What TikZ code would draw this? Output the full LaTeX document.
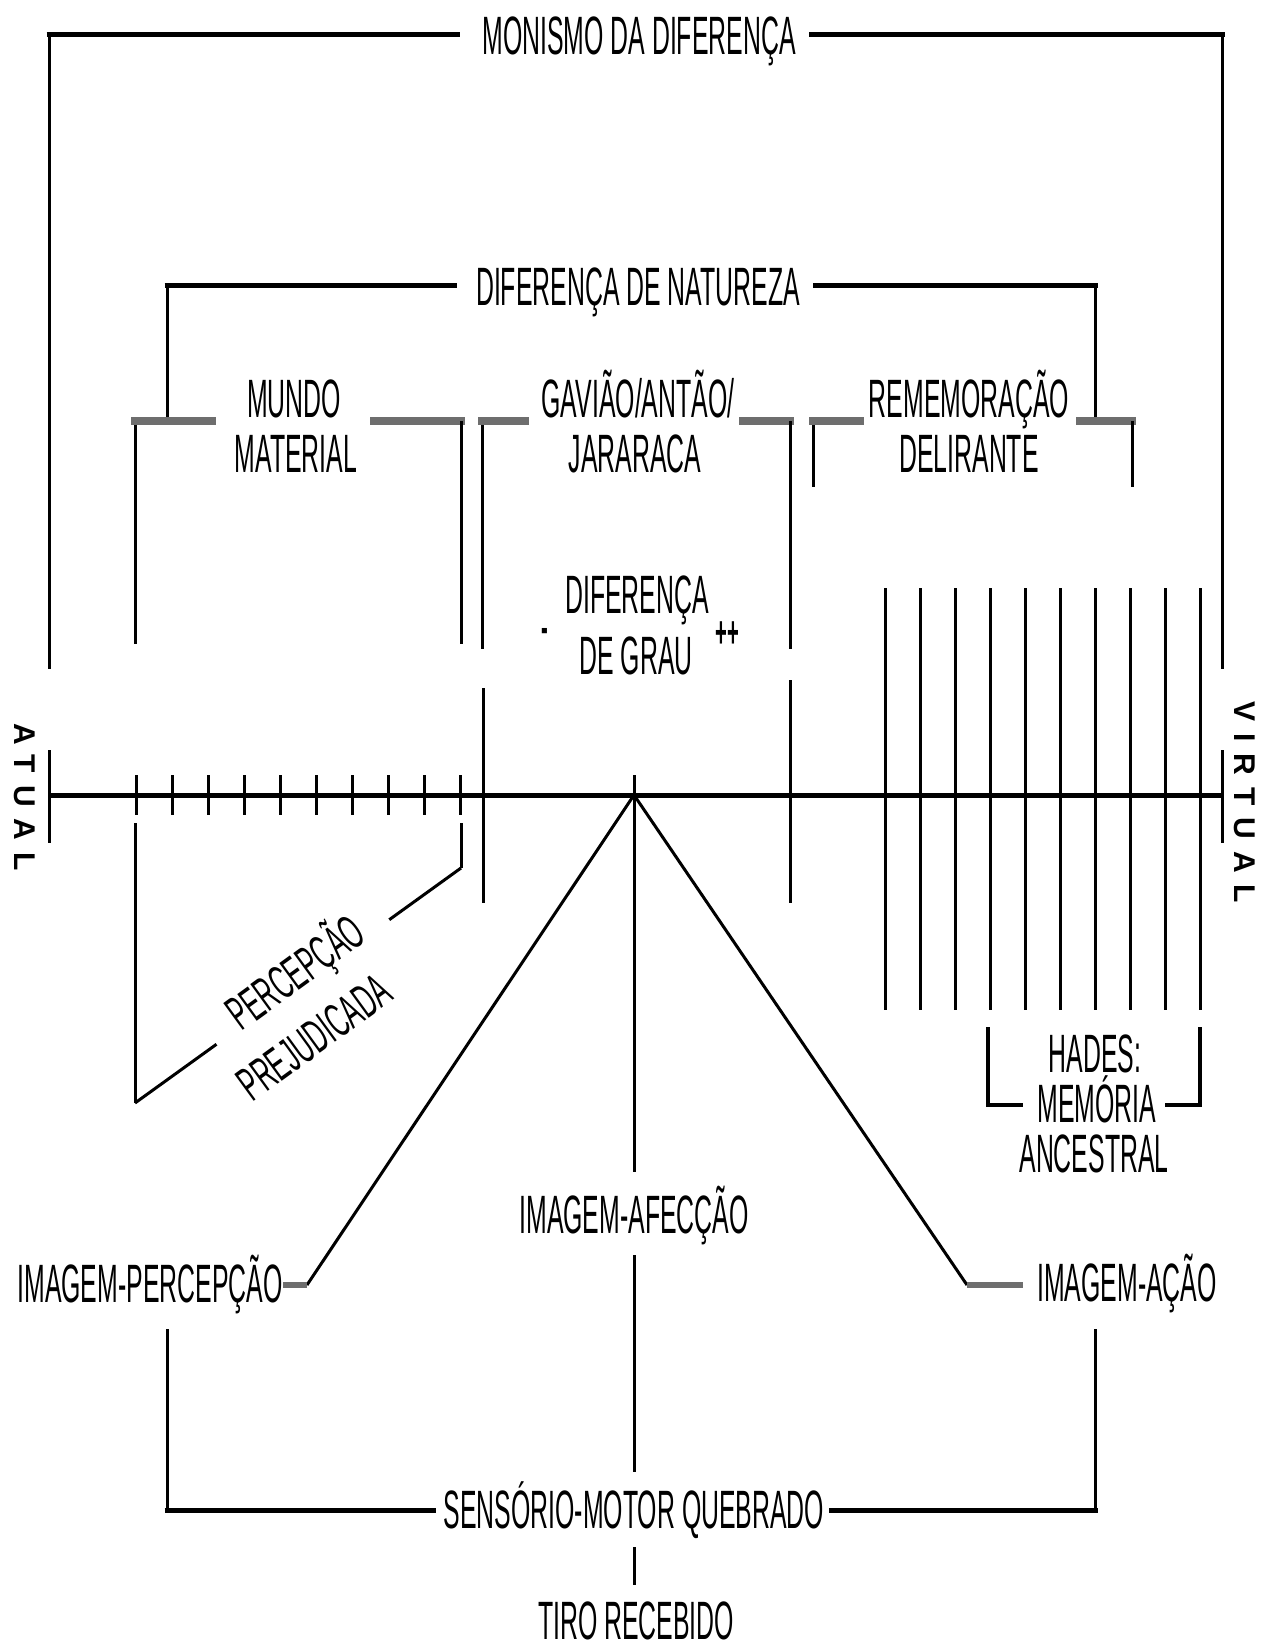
\documentclass[tikz,border=0pt]{standalone}
\usepackage{fontspec}
\newfontfamily\condfont[FakeStretch=0.46]{Liberation Sans}
\newfontfamily\rotfont[FakeStretch=0.52]{Liberation Sans}
\newfontfamily\sidefont[LetterSpace=40]{Liberation Sans}
\usetikzlibrary{calc}
\definecolor{gb}{RGB}{110,110,110}
\begin{document}
\begin{tikzpicture}[x=1pt,y=-1pt,
  lbl/.style={font=\condfont\fontsize{54}{60}\selectfont, inner sep=0pt, anchor=base},
  small/.style={font=\condfont\bfseries\fontsize{44}{44}\selectfont, inner sep=0pt, anchor=base},
  side/.style={font=\sidefont\bfseries\fontsize{30}{30}\selectfont, inner sep=0pt, rotate=-90, text height=22pt, text depth=0pt, anchor=center},
  rot/.style={font=\rotfont\fontsize{48}{54}\selectfont, inner sep=0pt, rotate=36, text height=34pt, text depth=0pt, anchor=center},
  ln/.style={line width=3pt},
  hbar/.style={line width=5pt},
  gbar/.style={line width=8pt, draw=gb},
  stub/.style={line width=6pt, draw=gb},
  axisln/.style={line width=5pt}]
\useasboundingbox (0,0) rectangle (1270,1642);

% ---------- labels ----------
\node[lbl] (monismo) at (639,54) {MONISMO DA DIFERENÇA};
\node[lbl] (natureza) at (638,305) {DIFERENÇA DE NATUREZA};
\node[lbl] (mundoA) at (294,417) {MUNDO};
\node[lbl] (mundoB) at (296,472) {MATERIAL};
\node[lbl] (gavA) at (638,417) {GAVIÃO/ANTÃO/};
\node[lbl] (gavB) at (635,472) {JARARACA};
\node[lbl] (remA) at (969,417) {REMEMORAÇÃO};
\node[lbl] (remB) at (969,472) {DELIRANTE};
\node[lbl] (difA) at (637,613) {DIFERENÇA};
\node[lbl] (difB) at (636,674) {DE GRAU};
\node[small] (minus) at (545,642) {-};
\node[small] (plus) at (727,647) {++};
\node[lbl] (hadA) at (1095,1072) {HADES:};
\node[lbl] (hadB) at (1097,1122) {MEMÓRIA};
\node[lbl] (hadC) at (1094,1172) {ANCESTRAL};
\node[lbl] (afec) at (634,1233) {IMAGEM-AFECÇÃO};
\node[lbl] (iperc) at (150,1302) {IMAGEM-PERCEPÇÃO};
\node[lbl] (iacao) at (1127,1301) {IMAGEM-AÇÃO};
\node[lbl] (senso) at (634,1528) {SENSÓRIO-MOTOR QUEBRADO};
\node[lbl] (tiro) at (636,1639) {TIRO RECEBIDO};
\node[rot] (percA) at (295,972) {PERCEPÇÃO};
\node[rot] (percB) at (314,1037) {PREJUDICADA};
\node[side] (atual) at (26,797) {ATUAL};
\node[side] (virtual) at (1245,802) {VIRTUAL};

% ---------- coordinates ----------
\coordinate (axL) at (49,795);
\coordinate (axR) at (1222,795);
\coordinate (apex) at (634,795);

% ---------- top bracket: monismo ----------
\draw[hbar] (46.5,34) -- (460,34);
\draw[hbar] (809,34) -- (1224.5,34);
\draw[ln] (49,34) -- (49,669);
\draw[ln] (1222,34) -- (1222,669);

% ---------- natureza bracket ----------
\draw[hbar] (164.5,285) -- (457,285);
\draw[hbar] (813,285) -- (1097.5,285);
\draw[ln] (167,285) -- (167,417);
\draw[ln] (1095,285) -- (1095,417);

% ---------- sub brackets ----------
\draw[ln] (135,421) -- (135,644);
\draw[gbar] (131,421) -- (216,421);
\draw[gbar] (370,421) -- (465,421);
\draw[ln] (461,421) -- (461,644);

\draw[ln] (482,421) -- (482,649);
\draw[gbar] (478,421) -- (529,421);
\draw[gbar] (739,421) -- (794,421);
\draw[ln] (790,421) -- (790,649);

\draw[ln] (813,421) -- (813,487);
\draw[gbar] (809,421) -- (864,421);
\draw[gbar] (1076,421) -- (1136,421);
\draw[ln] (1132,421) -- (1132,487);

% ---------- axis ----------
\draw[axisln] (axL) -- (axR);
\draw[ln] (49,750) -- (49,843);
\draw[ln] (1222,750) -- (1222,843);
\foreach \k in {0,...,9} {
  \draw[ln] ({136+\k*36.1},775) -- ({136+\k*36.1},815);
}
\draw[ln] (634,775) -- (apex);
\draw[ln] (483,688) -- (483,903);
\draw[ln] (790,680) -- (790,903);
\foreach \k in {0,...,9} {
  \draw[ln] ({885+\k*35},588) -- ({885+\k*35},1010);
}

% ---------- percepcao prejudicada ----------
\coordinate (pcR) at (461,868);
\coordinate (pcL) at (135,1103);
\draw[ln] (135,823) -- (pcL);
\draw[ln] (461,823) -- (pcR);
\draw[ln] (pcR) -- ($(pcR)!0.22!(pcL)$);
\draw[ln] ($(pcR)!0.75!(pcL)$) -- (pcL);

% ---------- hades bracket ----------
\draw[line width=4pt] (988,1027) -- (988,1105) -- (1023,1105);
\draw[line width=4pt] (1165,1105) -- (1200,1105) -- (1200,1027);

% ---------- diagonals ----------
\coordinate (dl) at (307,1285);
\coordinate (dr) at (967,1285);
\draw[ln] (apex) -- (dl);
\draw[ln] (apex) -- (dr);
\draw[stub] (283,1285) -- (dl);
\draw[stub] (dr) -- (1023,1285);

% ---------- centre line ----------
\draw[ln] (apex) -- (634,1172);
\draw[ln] (634,1255) -- (634,1472);
\draw[ln] (634,1547) -- (634,1585);

% ---------- bottom bracket ----------
\draw[ln] (167,1329) -- (167,1510);
\draw[ln] (1095,1329) -- (1095,1510);
\draw[hbar] (164.5,1510) -- (436,1510);
\draw[hbar] (829,1510) -- (1097.5,1510);
\end{tikzpicture}
\end{document}
